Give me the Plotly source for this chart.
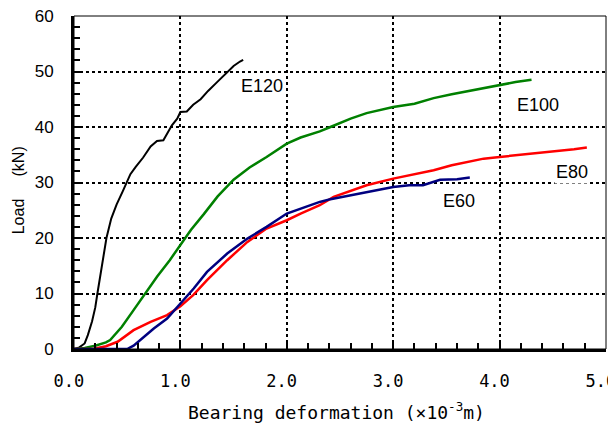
import plotly.graph_objects as go

# ---- data ----
e120_x = [0, 0.05, 0.1, 0.13, 0.17, 0.2, 0.22, 0.26, 0.305, 0.35, 0.4, 0.46, 0.53, 0.58, 0.65, 0.72, 0.78, 0.84, 0.88, 0.92, 0.97, 1.0, 1.06, 1.12, 1.19, 1.26, 1.34, 1.42, 1.5, 1.56, 1.59]
e120_y = [0, 0.3, 1, 2.5, 5, 7.5, 10, 15, 20, 23.5, 26, 28.5, 31.5, 32.8, 34.5, 36.5, 37.5, 37.6, 39, 40.3, 41.5, 42.7, 42.8, 44, 45, 46.5, 48, 49.5, 51, 51.8, 52.1]

e100_x = [0, 0.1, 0.2, 0.3, 0.34, 0.45, 0.56, 0.67, 0.78, 0.9, 1.0, 1.1, 1.22, 1.35, 1.5, 1.65, 1.81, 2.0, 2.13, 2.31, 2.41, 2.6, 2.75, 3.0, 3.2, 3.38, 3.55, 3.69, 3.85, 4.0, 4.15, 4.3]
e100_y = [0, 0.2, 0.6, 1.2, 1.6, 4, 7, 10, 13, 16, 18.8, 21.5, 24.3, 27.5, 30.5, 32.7, 34.6, 37, 38.1, 39.2, 40, 41.5, 42.5, 43.6, 44.2, 45.2, 45.9, 46.4, 47, 47.6, 48.1, 48.5]

e80_x = [0, 0.18, 0.3, 0.41, 0.56, 0.72, 0.875, 1.0, 1.12, 1.25, 1.44, 1.63, 1.81, 2.0, 2.13, 2.31, 2.44, 2.6, 2.75, 3.0, 3.2, 3.38, 3.55, 3.69, 3.85, 4.0, 4.15, 4.31, 4.5, 4.7, 4.82]
e80_y = [0, 0, 0.5, 1.3, 3.4, 4.9, 6.1, 7.7, 9.7, 12.4, 16, 19.3, 21.7, 23.2, 24.4, 25.9, 27.4, 28.5, 29.5, 30.7, 31.5, 32.2, 33.1, 33.7, 34.3, 34.6, 34.9, 35.2, 35.5, 36.0, 36.3]

e60_x = [0, 0.3, 0.5, 0.56, 0.62, 0.75, 0.875, 1.0, 1.125, 1.25, 1.44, 1.63, 1.81, 2.0, 2.13, 2.31, 2.41, 2.6, 2.75, 3.0, 3.15, 3.28, 3.44, 3.6, 3.72]
e60_y = [0, 0, 0, 0.6, 1.6, 3.7, 5.5, 8.2, 10.9, 13.9, 17.2, 19.9, 22, 24.4, 25.3, 26.5, 27, 27.7, 28.3, 29.2, 29.5, 29.5, 30.5, 30.6, 30.9]

series_names = ["E120", "E100", "E80", "E60"]
series_colors = ["#000000", "#008000", "#FF0000", "#000080"]
label_x = [1.77, 4.36, 4.68, 3.62]
label_y = [47.3, 44.0, 31.9, 26.7]

x_ticks = [0, 1, 2, 3, 4, 5]
x_ticktext = ["0.0", "1.0", "2.0", "3.0", "4.0", "5.0"]
y_ticks = [0, 10, 20, 30, 40, 50, 60]

xs = [e120_x, e100_x, e80_x, e60_x]
ys = [e120_y, e100_y, e80_y, e60_y]
widths = [2, 2.5, 2.5, 2.5]

fig = go.Figure()
for name, x, y, c, w in zip(series_names, xs, ys, series_colors, widths):
    fig.add_trace(go.Scatter(x=x, y=y, mode="lines", name=name,
                             line=dict(color=c, width=w), showlegend=False))

mono = "DejaVu Sans Mono"
sans = "Liberation Sans"

for name, lx, ly in zip(series_names, label_x, label_y):
    fig.add_annotation(x=lx, y=ly, text=name, showarrow=False,
                       xanchor="center", yanchor="middle",
                       font=dict(family=sans, size=18, color="#000000"),
                       bgcolor="white" if name == "E80" else "rgba(0,0,0,0)")

fig.add_annotation(xref="paper", yref="paper", x=-0.105, y=0.477,
                   xanchor="center", yanchor="middle",
                   text="Load&nbsp;&nbsp;&nbsp;&nbsp;&nbsp;(kN)", textangle=-90, showarrow=False,
                   font=dict(family=sans, size=16, color="#000000"))
fig.add_annotation(xref="paper", yref="paper", x=0.494, y=-0.186,
                   xanchor="center", yanchor="middle",
                   text="Bearing deformation (×10<sup>-3</sup>m)", showarrow=False,
                   font=dict(family=mono, size=18, color="#000000"))

# thin frame (top/right)
fig.add_shape(type="rect", xref="paper", yref="paper", x0=0, y0=0, x1=1, y1=1,
              line=dict(color="black", width=1), layer="above")

fig.update_xaxes(range=[0, 5], tickvals=x_ticks,
                 ticktext=[t + "\u00a0" for t in x_ticktext],
                 showline=True, linecolor="black", linewidth=3, automargin=False,
                 ticks="inside", ticklen=6, tickwidth=2, tickcolor="black",
                 showgrid=True, gridcolor="black", gridwidth=2, griddash="dot",
                 minor=dict(dtick=0.2, ticks="inside", ticklen=6, tickwidth=2,
                            tickcolor="black", showgrid=False),
                 tickfont=dict(family=mono, size=17, color="#000000"),
                 ticklabeloverflow="allow",
                 ticklabelstandoff=15, zeroline=False)
fig.update_yaxes(range=[0, 60], tickvals=y_ticks,
                 showline=True, linecolor="black", linewidth=3, automargin=False,
                 ticks="inside", ticklen=6, tickwidth=2, tickcolor="black",
                 showgrid=True, gridcolor="black", gridwidth=2, griddash="dot",
                 minor=dict(dtick=2, ticks="inside", ticklen=6, tickwidth=2,
                            tickcolor="black", showgrid=False),
                 tickfont=dict(family=sans, size=17, color="#000000"),
                 ticklabeloverflow="allow",
                 ticklabelstandoff=14, zeroline=False)

# page body adds an 8px offset; compensate so the plot sits where the reference has it
fig.update_layout(width=616, height=415, margin=dict(l=66, r=18, t=8, b=74),
                  plot_bgcolor="white", paper_bgcolor="white")

fig.write_html("out.html")
